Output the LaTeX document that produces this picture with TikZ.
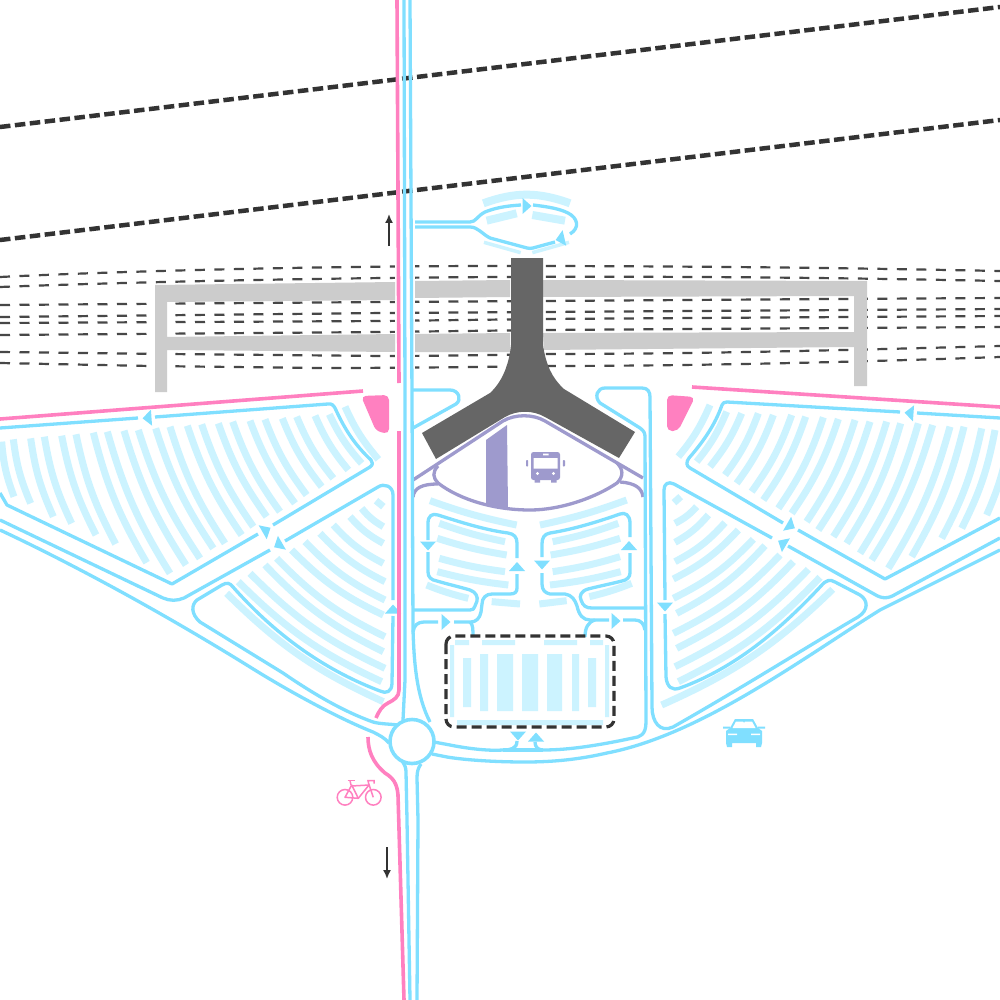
\documentclass[tikz,border=0pt]{standalone}
\usetikzlibrary{arrows.meta}
\definecolor{rdblue}{HTML}{80DFFF}
\definecolor{lotblue}{HTML}{CCF3FF}
\definecolor{pinkc}{HTML}{FF80C0}
\definecolor{purp}{HTML}{9E9ACD}
\definecolor{greyb}{HTML}{CCCCCC}
\definecolor{term}{HTML}{666666}
\definecolor{inkd}{HTML}{333333}
\newcommand{\rarrow}[3]{\fill[rdblue,shift={(#1,#2)},rotate=#3] (4.5,0)--(-4.5,8)--(-4.5,-8)--cycle;}
\tikzset{
  road/.style={draw=rdblue,line width=3.3pt,line join=round},
  bay/.style={draw=lotblue,line width=7pt},
  pinkroad/.style={draw=pinkc,line width=3.6pt},
  purpline/.style={draw=purp,line width=3.3pt},
  rail/.style={draw=inkd!90!white,line width=2.2pt,dash pattern=on 10pt off 9.5pt},
  thickrail/.style={draw=inkd,line width=4.5pt,dash pattern=on 10.5pt off 4.5pt},
  arrowk/.style={draw=inkd,line width=1.6pt,-{Latex[length=9pt,width=8pt]}},
  zoomunit/.style={x=.33333pt,y=-.33333pt}
}
\begin{document}
\begin{tikzpicture}[x=1pt,y=-1pt]
\useasboundingbox (0,0) rectangle (1000,1000);
\fill[white] (0,0) rectangle (1000,1000);
% railway tracks
\draw[rail] (0,277) .. controls (100,272) and (300,266) .. (500,266) .. controls (700,266) and (850,268) .. (1000,271);
\draw[rail] (0,287) .. controls (100,283) and (300,278) .. (500,277) .. controls (700,276) and (850,278) .. (1000,281);
\draw[rail] (0,305) -- (383,302) -- (543,301) -- (833,299) -- (1000,298);
\draw[rail] (0,317) -- (383,313) -- (543,312) -- (1000,309);
\draw[rail] (0,323) -- (383,321) -- (543,319) -- (1000,316);
\draw[rail] (0,335) -- (383,332) -- (543,330) -- (1000,327);
\draw[rail] (0,352) -- (167,354) -- (383,356) .. controls (430,356) and (500,355) .. (543,354) .. controls (700,354) and (850,350) .. (1000,346);
\draw[rail] (0,363) -- (150,366) -- (317,368) .. controls (400,368) and (480,367) .. (543,366) .. controls (650,366) and (800,364) .. (1000,357);
\fill[white] (395,262) rectangle (415,380);
% thick dashed lines
\draw[thickrail] (0,127) -- (1000,7);
\draw[thickrail] (0,240) -- (1000,120);
% grey platforms
\fill[greyb] (155,392) -- (155,285) -- (395,282) -- (395,300) -- (167,302) -- (167,337) -- (395,334) -- (395,352) -- (167,350) -- (167,392) -- cycle;
\fill[greyb] (415,281) -- (510,280) -- (510,297) -- (415,298) -- cycle;
\fill[greyb] (415,334) -- (510,333) -- (510,352) -- (415,352) -- cycle;
\fill[greyb] (543,280) -- (867,281) -- (867,386) -- (854,386) -- (854,347) -- (544,350) -- (543,333) -- (854,332) -- (854,296) -- (543,297) -- cycle;
% terminal
\fill[term] (511,258) -- (543,258) -- (543,345) .. controls (546,365) and (552,378) .. (564,389) -- (635,432) -- (619,458) -- (545,417) .. controls (533,410) and (517,410) .. (505,417) -- (436,459) -- (422,433) -- (490,393) .. controls (502,382) and (509,365) .. (511,345) -- cycle;
% parking bays: left large lot
\begin{scope}[shift={(0,380)}]\begin{scope}[zoomunit]
\foreach \a/\b/\c/\d in {5/185/42/350,40/178/92/370,92/175/160/410,133/170/215/430,185/167/288/465,228/163/347/492,280/158/440/548,322/155/510/580,372/152/558/555,415/150/600/535,467/145/640/505,510/140/675/490,562/137/725/465,605/133/760/440,655/130/800/410,698/125/840/395,750/122/885/370,795/118/920/345,847/115/965/320,890/110/1000/295,945/107/1045/270,988/103/1085/250,1035/80/1135/238}
  \draw[bay] (\a,\b) to[bend right=8] (\c,\d);
\foreach \a/\b/\c/\d in {1085/385/1150/440,1050/410/1150/490,1000/435/1150/550,960/460/1155/605,915/485/1155/660,875/510/1150/705,830/535/1155/770,795/555/1150/815,750/580/1155/865,715/605/1145/905,680/640/1150/965}
  \draw[bay] (\a,\b) to[bend right=10] (\c,\d);
\draw[bay] (1128,362) -- (1150,380);
\end{scope}\end{scope}
% parking bays: right large lot
\begin{scope}[shift={(640,380)}]\begin{scope}[zoomunit]
\foreach \a/\b/\c/\d in {210/75/115/230,260/95/170/245,305/100/210/260,355/100/255/285,400/105/290/310,455/105/335/335,497/110/370/360,550/112/415/385,595/117/455/400,645/120/500/425,690/125/535/450,740/125/580/470,782/130/620/490,835/130/660/520,878/135/695/540,930/140/745/565,972/140/815/530,1025/145/905/475,1065/150/965/445,1110/155/1040/405}
  \draw[bay] (\a,\b) to[bend left=8] (\c,\d);
\foreach \a/\b/\c/\d in {170/380/105/430,205/405/105/487,255/428/105/545,295/450/100/597,340/478/100/655,375/497/110/700,420/525/100/760,460/545/110/805,505/568/105/860,540/592/115/905,578/628/65/975}
  \draw[bay] (\a,\b) to[bend left=10] (\c,\d);
\draw[bay] (122,350) -- (102,368);
\end{scope}\end{scope}
% parking bays: centre
\begin{scope}[shift={(400,380)}]\begin{scope}[zoomunit]
\foreach \a/\b/\c/\d in {90/362/350/435,118/430/315/485,112/475/320/525,118/535/315/575,112/575/325/615,80/615/205/655}
  \draw[bay] (\a,\b) to[bend right=4] (\c,\d);
\foreach \a/\b/\c/\d in {420/435/680/360,458/485/655/430,452/525/660/475,458/575/660/530,450/615/662/575,568/650/695/610}
  \draw[bay] (\a,\b) to[bend right=4] (\c,\d);
\draw[bay] (275,665) -- (360,672);
\draw[bay] (418,672) -- (500,662);
\end{scope}\end{scope}
% parking bays: kiss and ride loop
\begin{scope}[shift={(370,180)}]\begin{scope}[zoomunit]
\draw[bay,line width=8pt] (340,70) to[bend left=20] (600,70);
\draw[bay,line width=8pt] (350,122) -- (440,100);
\draw[bay,line width=8pt] (487,105) -- (585,122);
\draw[bay,line width=3.5pt] (342,187) -- (452,218);
\draw[bay,line width=3.5pt] (487,218) -- (597,187);
\end{scope}\end{scope}
% parking bays: dashed block
\fill[lotblue] (463,658) rectangle (471,707) (480,654) rectangle (488,711) (497,654) rectangle (513,711) (522,654) rectangle (538,711) (547,654) rectangle (562,711) (572,654) rectangle (579,711) (588,658) rectangle (596,707);
\fill[lotblue] (450,645) rectangle (454,717) (605,645) rectangle (609,717) (457,720) rectangle (603,725) (455,640) rectangle (469,645) (482,640) rectangle (515,645) (544,640) rectangle (577,645) (590,640) rectangle (603,645);
% purple bus station
\fill[purp] (486,440) -- (507,425) -- (508,508) -- (486,505) -- cycle;
\draw[purpline] (413,480) -- (503,421) .. controls (515,414) and (533,414) .. (545,421) -- (643,478);
\draw[purpline] (438,466) .. controls (432,472) and (433,478) .. (438,483) .. controls (460,500) and (495,510) .. (530,510) .. controls (560,510) and (595,498) .. (617,483) .. controls (624,476) and (623,469) .. (617,463);
\draw[purpline] (413,497) .. controls (414,488) and (422,484) .. (438,484);
\draw[purpline] (643,497) .. controls (642,488) and (635,483) .. (620,482);
% bus icon
\fill[purp,rounded corners=2.5pt] (531,452) rectangle (560,480);
\fill[purp] (534.5,478) rectangle (540,482.5) (551,478) rectangle (556.5,482.5);
\fill[purp,rounded corners=.8pt] (526,460) rectangle (528.2,466.5) (562.8,460) rectangle (565,466.5);
\fill[white] (533.5,458) rectangle (557.5,468.5) (543,453.5) rectangle (548.5,455.3);
\fill[white] (537.5,473.5) circle (1.6pt) (553.5,473.5) circle (1.6pt);
% roads, main
\draw[road] (404,0) -- (405,400) -- (405,680) -- (403,720);
\draw[road] (410,0) -- (412,400) -- (413,630) .. controls (414,660) and (416,695) .. (430,722);
\draw[road] (410,1000) -- (407,820) -- (406,772) .. controls (406,768) and (405,765) .. (402,761);
\draw[road] (417,1000) -- (418,820) -- (417,778) .. controls (417,772) and (418,768) .. (421,764);
% left lots
\draw[road] (0,428) -- (138,418);
\draw[road] (155,417) -- (328,404) .. controls (332,403.5) and (333,405) .. (335,408) .. controls (345,430) and (355,445) .. (371,460) .. controls (373,462) and (373,465) .. (370,467) -- (273,525);
\draw[road] (258,534) -- (172,584) -- (7,505) -- (0,493);
\draw[road] (0,520) -- (163,598) .. controls (170,601) and (177,601) .. (184,598) -- (270,550);
\draw[road] (285,541) -- (378,487) .. controls (384,483) and (393,486) .. (393,495) -- (393,600);
\draw[road] (393,616) -- (392,683) .. controls (392,692) and (386,694) .. (380,691) .. controls (330,672) and (280,640) .. (233,587) .. controls (230,583) and (227,582) .. (222,585) -- (197,600) .. controls (191,605) and (191,614) .. (200,622) -- (283,673) .. controls (315,695) and (345,712) .. (373,722) .. controls (380,724) and (390,724) .. (398,725);
\draw[road] (0,530) .. controls (60,558) and (150,605) .. (250,667) .. controls (290,692) and (340,719) .. (373,732) .. controls (379,735) and (385,738) .. (389,743);
% right lots
\draw[road] (917,413) -- (1000,418);
\draw[road] (900,412) -- (727,402) .. controls (724,402) and (723,403) .. (722,405) .. controls (715,425) and (703,442) .. (689,458) .. controls (686,462) and (686,466) .. (690,468) -- (783,523);
\draw[road] (798,530) -- (885,579) -- (1000,518);
\draw[road] (788,546) -- (874,594) .. controls (882,599) and (888,599) .. (896,594) -- (1000,538);
\draw[road] (772,538) -- (674,484) .. controls (668,481) and (664,484) .. (664,490) -- (665,600);
\draw[road] (665,614) -- (666,677) .. controls (667,687) and (672,691) .. (680,688) .. controls (735,668) and (780,630) .. (821,586) .. controls (826,580) and (830,579) .. (835,582) -- (860,595) .. controls (868,600) and (869,610) .. (858,617) .. controls (810,645) and (745,686) .. (673,727) .. controls (660,733) and (652,722) .. (652,707) -- (650,397) .. controls (650,392) and (648,388) .. (642,388) -- (605,388) .. controls (597,388) and (594,397) .. (600,403) -- (640,428) .. controls (644,431) and (645,433) .. (645,437) -- (646,722) .. controls (646,735) and (640,737) .. (633,738) .. controls (600,745) and (570,750) .. (543,750) .. controls (538,750) and (535,747) .. (535,742);
\draw[road] (1000,550) -- (880,610) .. controls (800,660) and (700,735) .. (607,753) .. controls (585,758) and (560,762) .. (525,762) .. controls (495,762) and (465,760) .. (447,757) -- (432,754);
% centre roads
\draw[road] (434,742) -- (450,745) .. controls (470,749) and (490,751) .. (503,750) .. controls (510,750) and (517,749) .. (517,741);
\draw[road] (503,750) -- (543,750);
\draw[road] (412,390) -- (450,390) .. controls (459,390) and (462,400) .. (456,404) -- (413,428);
\draw[road] (428,540) -- (428,523) .. controls (428,516) and (432,513) .. (438,515) .. controls (460,522) and (485,530) .. (508,533) .. controls (514,534) and (517,537) .. (517,543) -- (517,558);
\draw[road] (517,574) -- (517,588) .. controls (517,592) and (515,594) .. (510,594) -- (492,594) .. controls (486,594) and (482,598) .. (482,604) -- (481,612) .. controls (480,618) and (476,622) .. (471,622) -- (454,622);
\draw[road] (438,622) -- (424,622) .. controls (418,622) and (414,625) .. (413,632);
\draw[road] (470,622) .. controls (473,624) and (473,630) .. (473,637);
\draw[road] (428,552) -- (428,572) .. controls (428,577) and (431,580) .. (437,581) .. controls (447,584) and (460,587) .. (470,590) .. controls (476,592) and (478,597) .. (477,601) -- (475,606) .. controls (474,609) and (473,610) .. (470,610) -- (413,610);
\draw[road] (630,537) -- (630,523) .. controls (630,515) and (625,512) .. (620,514) .. controls (600,521) and (575,529) .. (550,533) .. controls (544,534) and (542,538) .. (542,544) -- (542,557);
\draw[road] (542,573) -- (542,584) .. controls (542,590) and (545,593) .. (550,594) -- (565,594) .. controls (572,595) and (575,600) .. (577,606) .. controls (579,615) and (583,620) .. (590,620) -- (609,620);
\draw[road] (623,620) -- (635,620) .. controls (641,620) and (644,624) .. (645,630);
\draw[road] (595,620) .. controls (588,622) and (585,628) .. (585,637);
\draw[road] (630,553) -- (630,573) .. controls (630,577) and (627,580) .. (622,581) .. controls (610,584) and (600,586) .. (588,589) .. controls (581,591) and (579,596) .. (581,600) .. controls (583,606) and (586,608) .. (592,608) -- (645,608);
% kiss-and-ride loop
\draw[road] (415,222) -- (470,222) .. controls (476,222) and (477,216) .. (485,212) .. controls (495,208) and (505,206) .. (521,205);
\draw[road] (533,205) .. controls (550,207) and (560,209) .. (568,213) .. controls (578,218) and (580,228) .. (570,234);
\draw[road] (555,242) -- (533,248) .. controls (531,248.5) and (529,248.5) .. (527,248) -- (490,238) .. controls (482,234) and (478,227) .. (470,227) -- (415,227);
% roundabout
\draw[road,line width=3.6pt,fill=white] (412,741.5) circle (22pt);
% dashed block
\draw[draw=inkd,line width=3.2pt,dash pattern=on 10pt off 5pt,rounded corners=8pt] (446,636) rectangle (614,727);
% arrowheads
\rarrow{147}{418}{184}
\rarrow{266.6}{530}{30}
\rarrow{278}{545}{210}
\rarrow{393}{609}{90}
\rarrow{909}{413}{176}
\rarrow{791}{526}{-30}
\rarrow{782}{543}{150}
\rarrow{665}{607}{270}
\rarrow{428}{546}{270}
\rarrow{517}{566.5}{90}
\rarrow{542}{565}{270}
\rarrow{629}{545.5}{90}
\rarrow{446}{622}{0}
\rarrow{616}{621}{0}
\rarrow{518}{736}{270}
\rarrow{536}{737}{90}
\rarrow{527}{206}{0}
\rarrow{560}{239}{193}
% pink cycle path
\draw[pinkroad] (397,0) -- (399,383);
\draw[pinkroad] (399,431) -- (399,690) .. controls (399,697) and (394,700) .. (388,703) .. controls (382,706) and (379,711) .. (376,718);
\draw[pinkroad] (368,737) .. controls (368,750) and (372,762) .. (385,773) .. controls (393,778) and (397,783) .. (398,795) -- (404,1000);
\draw[pinkroad] (0,419) -- (363,391);
\draw[pinkroad] (692,387) -- (1000,407);
\fill[pinkc,rounded corners=5pt] (361,396) -- (389,395) -- (389,434) -- (376,431) -- cycle;
\fill[pinkc,rounded corners=5pt] (667,395) -- (695,397) -- (678,431) -- (667,431) -- cycle;
% small black arrows
\draw[arrowk] (389,246) -- (389,214);
\draw[arrowk] (387,847) -- (387,879);
% bicycle icon
\begin{scope}[draw=pinkc,line width=1.5pt]
\draw (345,797.3) circle (7.8pt);
\draw (373.3,797.3) circle (7.8pt);
\draw[line join=round] (345,797.3) -- (351.7,785) -- (358.3,798.3) -- cycle;
\draw[line join=round] (351.7,786) -- (369,785) -- (358.3,798.3);
\draw (368.5,783) -- (373.3,797.3);
\draw (351,785) -- (350,780.5);
\draw (347.5,780.5) -- (354.5,780.5);
\draw (368.5,783) -- (368,780.5) -- (374,780.5) -- (374,783.5);
\end{scope}
% car icon
\fill[rdblue] (735,719) -- (753,719) -- (758,728) -- (762,731) -- (762,743) -- (761,747) -- (756,747) -- (756,743) -- (732,743) -- (732,747) -- (727,747) -- (726,743) -- (726,731) -- (730,728) -- cycle;
\fill[rdblue] (723,726.5) rectangle (730,728.5) (758,726.5) rectangle (765,728.5);
\fill[white] (736,721.5) -- (743,721.5) -- (744,723) -- (745,721.5) -- (752,721.5) -- (755.5,728) -- (732.5,728) -- cycle;
\fill[white] (728,733.5) rectangle (737,735) (751,733.5) rectangle (760,735);
\end{tikzpicture}
\end{document}
